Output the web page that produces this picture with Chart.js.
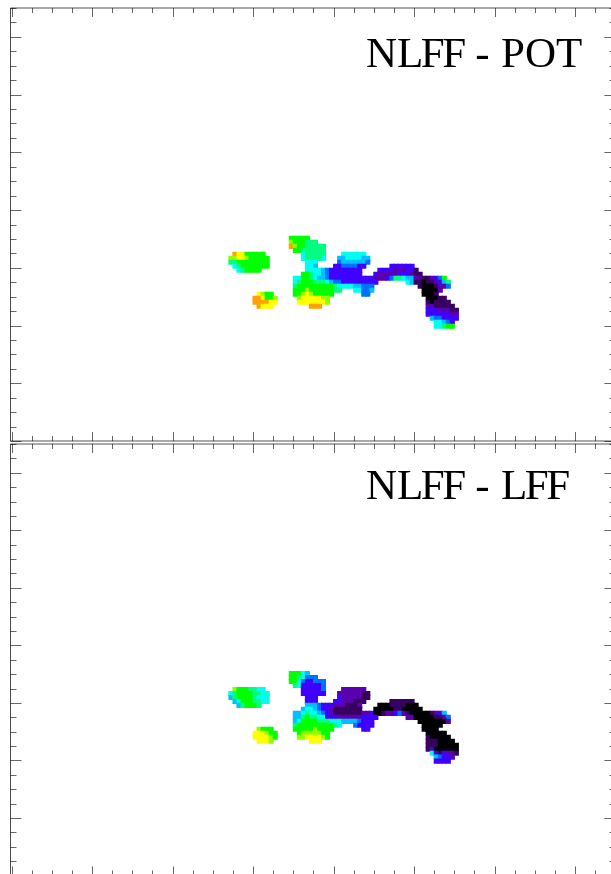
<!DOCTYPE html>
<html>
<head>
<meta charset="utf-8">
<script src="https://cdn.jsdelivr.net/npm/chart.js@4"></script>
<style>
  html, body { margin: 0; background: #fff; overflow: hidden; width: 611px; height: 874px; }
  canvas { position: absolute; left: 0; }
  #potChart { top: 0; }
  #lffChart { top: 440px; }
  .panel-title {
    position: absolute; left: 366px; white-space: pre; color: #000;
    font: 43px/50px "Liberation Serif", serif; word-spacing: 0.8px;
  }
  .panel-title span { letter-spacing: -2.5px; }
</style>
</head>
<body>
<canvas id="potChart" width="620" height="445"></canvas>
<canvas id="lffChart" width="620" height="440"></canvas>
<div class="panel-title" style="top:28px">N<span>LFF</span> - POT</div>
<div class="panel-title" style="top:460px">N<span>LFF</span> - <span>LFF</span></div>
<script>
// difference maps, one char per cell: 0 (lowest) .. b (highest), "." = no data
const potRows = [
  "...............88888",
  "...............9888777",
  "...............b98877777",
  "................88777777",
  ".baa88888.........677777....666666",
  "99aa988888........677776...55666655",
  "7788888888.........666.....45555554",
  ".678888888.........665....33444433......333333",
  "..678888...........66665433333333....3333222331",
  "..................887665433333333...322222333211",
  "................66887655433333333333222347765522112348",
  "................678887776544333333333.......65110112357",
  "................78888888887666655444...........10001224",
  "................888988888877...66445............00002",
  ".......a988.....889a988888.......44.............0001",
  "......bba889.....9aaaaa99........................00011",
  "......bbbbaa.....aaaaaaa9........................101111",
  ".......baaa.........bbb..........................2211111",
  ".................................................33322211",
  ".................................................33333322",
  "..................................................5443333",
  "...................................................66543",
  "...................................................66788",
];
const lffRows = [
  "...............88865",
  "...............8876444",
  "...............886433444",
  "................76333334",
  ".98887766.........333334....222222",
  "6788887766........333333...22222211",
  "5788887666.........333.....32222211",
  ".568887766.........333....33222111......111111",
  "..578887...........55543332221112....0001111000",
  "..................566543321111111...000001100000",
  "................556766543211111112230012234210" + "00001235",
  "................557877663332222223333.......22000001124",
  "................56888877766655554333...........00000002",
  "................788888888876...43333............00000",
  ".......9888.....8888898888.......33.............0000",
  "......aaa988.....89999988........................00000",
  "......aaaa98.....99aaaa98........................100000",
  ".......aaa9.........aaa..........................1110000",
  ".................................................11100000",
  ".................................................12000000",
  "..................................................6313221",
  "...................................................54332",
  "...................................................3333",
];
const levelColors = [
  "#000000", "#380060", "#5a00b0", "#4000ff", "#0070ff", "#00c0ff",
  "#00fff0", "#00ff80", "#00ff00", "#90ff00", "#ffff00", "#ffa000",
];
const axisMax = 150;
const tickStep = 5;
const majorEvery = 20;

// grid origin and cell size in axis units
const firstCol = 54.5;
const firstRow = 70.2;
const rowStep = 1.384;

function buildCells(rows) {
  const cells = [];
  rows.forEach((row, r) => {
    [...row].forEach((ch, c) => {
      if (ch === ".") return;
      cells.push({ x: firstCol + c, y: firstRow - r * rowStep, level: parseInt(ch, 16) });
    });
  });
  return cells;
}

// IDL style box: inward ticks on all four sides, longer on the majors
const boxTicks = {
  id: "boxTicks",
  afterDraw(chart) {
    const { ctx, chartArea: area, scales } = chart;
    const snap = (v) => Math.round(v) + 0.5;
    ctx.save();
    ctx.strokeStyle = "rgba(0,0,0,0.6)";
    ctx.lineWidth = 1;
    ctx.beginPath();
    scales.x.ticks.forEach((t) => {
      const x = snap(scales.x.getPixelForValue(t.value));
      const len = t.value % majorEvery === 0 ? 9 : 5;
      ctx.moveTo(x, area.top);
      ctx.lineTo(x, area.top + len);
      ctx.moveTo(x, area.bottom);
      ctx.lineTo(x, area.bottom - len);
    });
    scales.y.ticks.forEach((t) => {
      const y = snap(scales.y.getPixelForValue(t.value));
      const len = t.value % majorEvery === 0 ? 11 : 6;
      ctx.moveTo(area.left - 1, y);
      ctx.lineTo(area.left - 1 + len, y);
      ctx.moveTo(area.right, y);
      ctx.lineTo(area.right - len, y);
    });
    ctx.stroke();
    // frame
    ctx.strokeStyle = "rgba(0,0,0,0.45)";
    ctx.lineWidth = 1.4;
    ctx.beginPath();
    ctx.moveTo(area.left - 1, area.top);
    ctx.lineTo(area.right, area.top);
    ctx.moveTo(area.left - 1, area.bottom);
    ctx.lineTo(area.right, area.bottom);
    ctx.stroke();
    ctx.strokeStyle = "rgba(0,0,0,0.7)";
    ctx.lineWidth = 1;
    ctx.beginPath();
    ctx.moveTo(area.left - 1, area.top);
    ctx.lineTo(area.left - 1, area.bottom);
    ctx.stroke();
    ctx.restore();
  },
};

function drawPanel(id, rows, padding) {
  const linearAxis = {
    type: "linear",
    display: false,
    min: 0,
    max: axisMax,
    ticks: { stepSize: tickStep, autoSkip: false, display: false, maxTicksLimit: 100 },
  };
  return new Chart(document.getElementById(id), {
    type: "scatter",
    data: {
      datasets: [{
        data: buildCells(rows),
        pointStyle: "rect",
        // a bit over one cell so neighbours overlap and no seams show
        pointRadius: 3.6,
        pointBorderWidth: 0,
        pointBackgroundColor: (c) => levelColors[c.raw.level],
      }],
    },
    options: {
      responsive: false,
      animation: false,
      events: [],
      layout: { padding },
      plugins: { legend: { display: false }, tooltip: { enabled: false } },
      scales: { x: linearAxis, y: linearAxis },
    },
    plugins: [boxTicks],
  });
}

drawPanel("potChart", potRows, { left: 11.5, right: 4.6, top: 8, bottom: 3.5 });
drawPanel("lffChart", lffRows, { left: 11.5, right: 4.6, top: 2, bottom: 4.5 });
</script>
</body>
</html>
